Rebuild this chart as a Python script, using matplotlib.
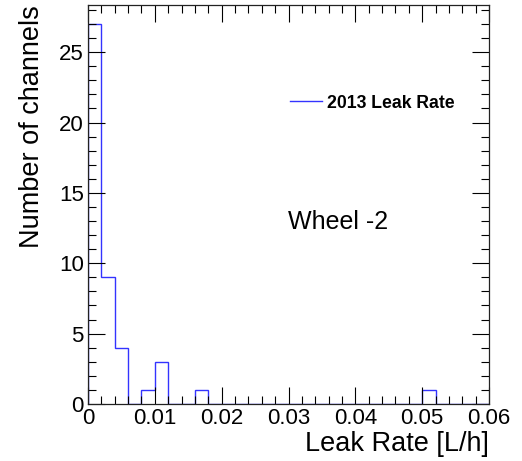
import numpy as np
import matplotlib
matplotlib.use("Agg")
import matplotlib.pyplot as plt
from matplotlib.ticker import MultipleLocator

plt.rcParams['font.family'] = ['Liberation Sans', 'DejaVu Sans']

# Histogram data: bin edges (L/h) and counts per bin
bin_edges = np.linspace(0.0, 0.06, 31)
counts = [27, 9, 4, 0, 1, 3, 0, 0, 1, 0,
          0, 0, 0, 0, 0, 0, 0, 0, 0, 0,
          0, 0, 0, 0, 0, 1, 0, 0, 0, 0]
series_label = "2013 Leak Rate"
annotation = "Wheel -2"
x_ticks = [0, 0.01, 0.02, 0.03, 0.04, 0.05, 0.06]
x_ticklabels = ["0", "0.01", "0.02", "0.03", "0.04", "0.05", "0.06"]
y_ticks = [0, 5, 10, 15, 20, 25]

fig = plt.figure(figsize=(5.22, 4.61), dpi=100)
W, H = 522, 461
ax = fig.add_axes([88 / W, 1 - 404 / H, (489 - 88) / W, (404 - 5) / H])

ax.stairs(counts, bin_edges, color='#3333ff', linewidth=1.0, label=series_label)

ax.set_xlim(0, 0.06)
ax.set_ylim(0, max(counts) * 1.05)
ax.set_xticks(x_ticks)
ax.set_xticklabels(x_ticklabels)
ax.set_yticks(y_ticks)
ax.xaxis.set_minor_locator(MultipleLocator(0.002))
ax.yaxis.set_minor_locator(MultipleLocator(1))
ax.tick_params(which='both', direction='in', top=True, right=True,
               labelsize=16, colors='black', width=0.8)
ax.tick_params(which='major', length=12, pad=3)
ax.tick_params(which='minor', length=6)
for s in ax.spines.values():
    s.set_linewidth(0.9)
    s.set_color('#222222')

ax.set_xlabel("Leak Rate [L/h]", fontsize=19.5, loc='right', labelpad=1)
ax.set_ylabel("Number of channels", fontsize=19.5, loc='top', labelpad=10)

leg = ax.legend(loc='center left', bbox_to_anchor=(0.504, 0.754), frameon=False,
                prop={'weight': 'bold', 'size': 12.7}, handlelength=1.8,
                handletextpad=0.3, borderaxespad=0, borderpad=0)

ax.text(0.499, 0.456, annotation, transform=ax.transAxes, fontsize=18,
        ha='left', va='center')

fig.savefig("out.png", dpi=100)
